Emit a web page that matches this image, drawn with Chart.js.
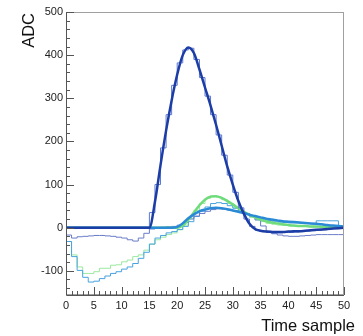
<!DOCTYPE html>
<html lang="en">
<head>
  <meta charset="UTF-8" />
  <title>ADC vs time sample</title>
  <script src="https://cdn.jsdelivr.net/npm/chart.js"></script>
  <style>
    body { margin: 0; background: #ffffff; }
    canvas { display: block; }
  </style>
</head>
<body>
<canvas id="adcChart" width="363" height="336"></canvas>
<script>
  // fit curves, sampled at time samples 0..50
  const pulseFit = [0,0,0,0,0,0,0,0,0,0,0,0,0,0,0,0,60,145,225,295,355,400,418,405,367,325,283,238,190,142,100,62,32,9,-3,-7,-9,-10,-10,-10,-9,-8,-8,-7,-6,-5,-4,-3,-2,-1,0];
  const greenFit = [0,0,0,0,0,0,0,0,0,0,0,0,0,0,0,0,0,0,0,0,0,5,18,35,52,65,72,73,69,62,54,45,37,30,24,19,15,12,10,8,6,5,4,4,3,3,2,2,1,1,1];
  const blueFit = [0,0,0,0,0,0,0,0,0,0,0,0,0,0,0,0,0,0,0,0,2,10,22,31,38,42,45,46,45,43,40,37,34,30,27,24,21,19,17,15,14,13,12,11,10,9,8,6,5,4,3];

  // histograms, one value per bin [i, i+1], bins 0..49
  const pulseHist = [0,0,0,0,0,0,0,0,0,0,0,0,0,0,0,35,100,185,262,330,382,412,416,390,348,305,262,215,168,122,82,46,20,3,-6,-9,-11,-12,-12,-11,-11,-10,-9,-8,-7,-6,-5,-3,-2,-1];
  const violetHist = [-17,-24,-21,-20,-19,-18,-18,-19,-20,-22,-24,-28,-31,-24,-13,-3,0,1,2,3,6,12,20,27,33,38,42,44,43,41,39,36,33,27,18,4,-8,-14,-17,-19,-20,-20,-19,-18,-17,-16,-16,-16,-16,-16];
  const cyanHist = [-32,-67,-99,-115,-126,-124,-118,-112,-106,-102,-96,-91,-83,-71,-57,-38,-24,-18,-12,-9,-4,3,14,26,38,48,56,58,56,51,45,39,33,28,24,20,17,15,13,12,11,11,10,10,9,16,16,16,16,3];
  const greenHist = [-32,-63,-91,-106,-106,-102,-94,-94,-87,-86,-79,-75,-67,-63,-52,-38,-28,-22,-16,-12,-5,6,22,40,56,68,74,71,65,56,47,38,30,24,18,14,10,8,6,5,4,4,3,3,2,2,2,1,1,1];

  const xTitle = 'Time sample';
  const yTitle = 'ADC';

  function curve(vals) {
    return vals.map((v, i) => ({ x: i, y: v }));
  }
  function steps(vals) {
    const pts = vals.map((v, i) => ({ x: i, y: v }));
    pts.push({ x: vals.length, y: vals[vals.length - 1] });
    return pts;
  }

  // ticks drawn inside the frame, like ROOT
  const rootFrame = {
    id: 'rootFrame',
    afterDraw(chart) {
      const { ctx, chartArea: a, scales: { x, y } } = chart;
      ctx.save();
      ctx.lineWidth = 1;
      ctx.strokeStyle = '#a0a0a0';
      ctx.strokeRect(a.left + 0.5, a.top + 0.5, a.right - a.left - 1, a.bottom - a.top - 1);
      ctx.strokeStyle = '#555';
      ctx.beginPath();
      ctx.moveTo(a.left + 0.5, a.top);
      ctx.lineTo(a.left + 0.5, a.bottom + 0.5);
      ctx.lineTo(a.right, a.bottom + 0.5);
      for (let t = 0; t <= 50; t++) {
        const px = Math.round(x.getPixelForValue(t)) + 0.5;
        const len = t % 5 === 0 ? 8 : 4;
        ctx.moveTo(px, a.bottom);
        ctx.lineTo(px, a.bottom - len);
      }
      for (let v = -140; v <= 500; v += 20) {
        const py = Math.round(y.getPixelForValue(v)) + 0.5;
        const len = v % 100 === 0 ? 8 : 4;
        ctx.moveTo(a.left, py);
        ctx.lineTo(a.left + len, py);
      }
      ctx.stroke();

      ctx.fillStyle = '#111';
      ctx.font = '16.5px "Liberation Sans", Arial, sans-serif';
      ctx.textBaseline = 'alphabetic';
      ctx.textAlign = 'right';
      ctx.fillText(xTitle, 355, 331);
      ctx.translate(33.5, 13);
      ctx.rotate(-Math.PI / 2);
      ctx.fillText(yTitle, 0, 0);
      ctx.restore();
    }
  };

  const fitStyle = { borderWidth: 2.5, pointRadius: 0, cubicInterpolationMode: 'monotone', fill: false };
  const histStyle = { borderWidth: 1, pointRadius: 0, stepped: 'before', fill: false };

  new Chart(document.getElementById('adcChart'), {
    type: 'line',
    data: {
      datasets: [
        { data: curve(pulseFit), borderColor: '#1d3da6', ...fitStyle },
        { data: steps(pulseHist), borderColor: '#5b78cf', ...histStyle },
        { data: curve(blueFit), borderColor: '#2b8ad6', ...fitStyle },
        { data: curve(greenFit), borderColor: '#6fdc7c', ...fitStyle },
        { data: steps(violetHist), borderColor: '#6a7cc9', ...histStyle },
        { data: steps(cyanHist), borderColor: '#48a3de', ...histStyle },
        { data: steps(greenHist), borderColor: '#9be8a0', ...histStyle }
      ]
    },
    options: {
      responsive: false,
      animation: false,
      devicePixelRatio: 1,
      layout: { padding: { top: 12, right: 19, left: 0, bottom: 0 } },
      plugins: { legend: { display: false }, tooltip: { enabled: false } },
      scales: {
        x: {
          type: 'linear',
          min: 0,
          max: 50,
          afterFit: s => { s.height = 41; },
          grid: { display: false, drawTicks: false },
          border: { display: false },
          ticks: { stepSize: 5, maxRotation: 0, padding: 4, color: '#222', font: { family: '"Liberation Sans", Arial, sans-serif', size: 11 } }
        },
        y: {
          min: -156,
          max: 500,
          afterFit: s => { s.width = 66; },
          grid: { display: false, drawTicks: false },
          border: { display: false },
          ticks: { stepSize: 100, includeBounds: false, padding: 3, color: '#222', font: { family: '"Liberation Sans", Arial, sans-serif', size: 11 } }
        }
      }
    },
    plugins: [rootFrame]
  });
</script>
</body>
</html>
